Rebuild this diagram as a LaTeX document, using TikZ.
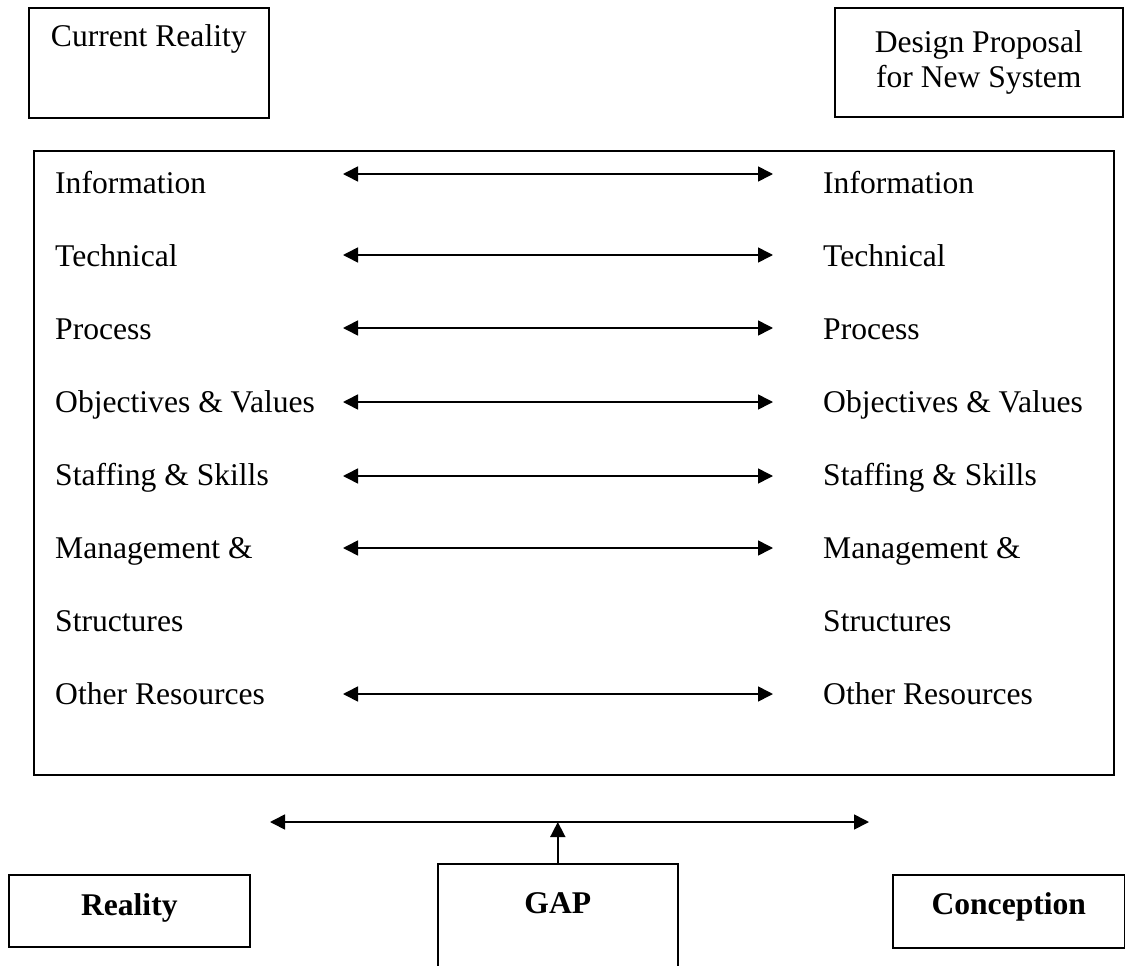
\documentclass[tikz,border=0pt]{standalone}
\usepackage{fontspec}
\setmainfont{Liberation Serif}
\usetikzlibrary{arrows.meta, positioning}

\newcommand{\bodysize}{\fontsize{31.6}{35}\selectfont}

\begin{document}
\begin{tikzpicture}[x=1pt, y=-1pt,
    box/.style={draw, line width=1.6pt, inner sep=0pt, align=center,
                anchor=north west, font=\bodysize},
    item/.style={anchor=base west, inner sep=0pt, font=\bodysize},
    link/.style={{Triangle[length=15pt, width=15pt]}-{Triangle[length=15pt, width=15pt]},
                 line width=1.6pt},
    rise/.style={-{Triangle[length=15pt, width=15pt]}, line width=1.6pt},
]
    \useasboundingbox (0,0) rectangle (1125,966);

    % heading boxes
    \node[box, minimum width=240pt, text height=39pt, text depth=71pt] (current) at (28,7) {Current Reality};
    \node[box, minimum width=288pt, minimum height=109pt] (proposal) at (834,7) {Design Proposal\\for New System};

    % frame round the dimensions
    \draw[line width=1.6pt] (34,151) rectangle (1114,775);

    \foreach \name/\txt [count=\i from 0] in {info/Information, tech/Technical, proc/Process,
            obj/Objectives \& Values, staff/Staffing \& Skills, mgmt/Management \&,
            struct/Structures, other/Other Resources} {
        \node[item] (left-\name)  at (55, 193+73*\i)  {\txt};
        \node[item] (right-\name) at (823, 193+73*\i) {\txt};
    }

    % two-way arrows between the columns
    \foreach \name/\y in {info/174, tech/255, proc/328, obj/402, staff/476, mgmt/548, other/694} {
        \coordinate (w-\name) at (343,\y);
        \coordinate (e-\name) at (773,\y);
        \draw[link] (w-\name) -- (e-\name);
    }

    % reality, gap and conception
    \node[box, font=\bodysize\bfseries, minimum width=241pt, text height=41pt, text depth=31pt] (reality) at (8,874) {Reality};
    \node[box, font=\bodysize\bfseries, minimum width=232pt, text height=40pt, text depth=33pt] (conception) at (892,874) {Conception};
    \node[box, font=\bodysize\bfseries, minimum width=240pt, text height=50pt, text depth=80pt] (gap) at (437,863) {GAP};

    \coordinate (span-w) at (270,822);
    \coordinate (span-e) at (869,822);
    \draw[link] (span-w) -- (span-e);
    \draw[rise] (gap) -- (gap |- span-w);
\end{tikzpicture}
\end{document}
